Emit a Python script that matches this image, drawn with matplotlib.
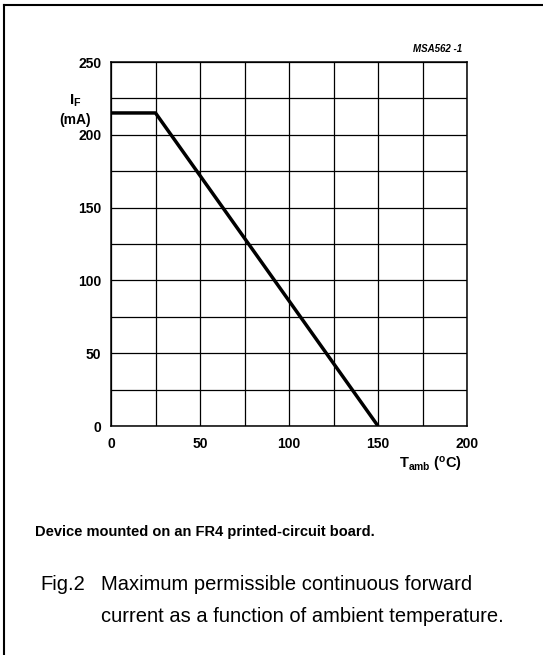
"""Fig.2 - max permissible continuous forward current vs ambient temperature."""
import matplotlib
matplotlib.use('Agg')
import matplotlib.pyplot as plt
from matplotlib.lines import Line2D
import numpy as np

plt.rcParams['font.family'] = ['Liberation Sans', 'DejaVu Sans']
plt.rcParams['mathtext.fontset'] = 'custom'
plt.rcParams['mathtext.rm'] = 'Liberation Sans'
plt.rcParams['mathtext.bf'] = 'Liberation Sans:bold'

# derating curve
t_amb = [0, 25, 150]
i_f = [215, 215, 0]

x_ticks = [0, 50, 100, 150, 200]
y_ticks = [0, 50, 100, 150, 200, 250]

W, H = 543, 655
fig = plt.figure(figsize=(W / 100, H / 100), dpi=100)
ax = fig.add_axes([111 / W, 1 - 426 / H, 356 / W, 364 / H])

ax.set_xlim(0, 200)
ax.set_ylim(0, 250)
ax.set_xticks(np.arange(0, 201, 25))
ax.set_yticks(np.arange(0, 251, 25))
ax.set_xticklabels([str(v) if v in x_ticks else '' for v in np.arange(0, 201, 25)])
ax.set_yticklabels([str(v) if v in y_ticks else '' for v in np.arange(0, 251, 25)])
ax.tick_params(length=0, labelsize=10)
ax.tick_params(axis='x', pad=8)
ax.tick_params(axis='y', pad=7)
for lb in ax.get_xticklabels() + ax.get_yticklabels():
    lb.set_fontweight('bold')
ax.grid(True, color='black', linewidth=0.9)
for s in ax.spines.values():
    s.set_linewidth(1.1)

ax.plot(t_amb, i_f, color='black', linewidth=2.5, solid_capstyle='butt', zorder=5)

# axis labels
ax.text(-0.10, 0.895, r'$\mathbf{I}_{\mathbf{F}}$', transform=ax.transAxes,
        fontsize=11, ha='center', va='center')
ax.text(-0.10, 0.84, '(mA)', transform=ax.transAxes, fontsize=10,
        ha='center', va='center', fontweight='bold')
ax.text(0.985, -0.105, r'$\mathbf{T}_{\mathbf{amb}}$ $\mathbf{(^{o}C)}$',
        transform=ax.transAxes, fontsize=10.5, ha='right', va='center')
ax.text(0.985, 1.035, 'MSA562 -1', transform=ax.transAxes, fontsize=7,
        ha='right', va='center', fontweight='bold', style='italic')

# captions
fig.text(35 / W, 1 - 532 / H, 'Device mounted on an FR4 printed-circuit board.',
         fontsize=10.5, ha='left', va='center', fontweight='bold')
fig.text(40 / W, 1 - 584 / H, 'Fig.2', fontsize=14.5, ha='left', va='center')
fig.text(101 / W, 1 - 584 / H, 'Maximum permissible continuous forward',
         fontsize=14.5, ha='left', va='center')
fig.text(101 / W, 1 - 616 / H, 'current as a function of ambient temperature.',
         fontsize=14.5, ha='left', va='center')

# page frame (left and top edges)
fig.add_artist(Line2D([4 / W, 4 / W], [0, 1 - 5 / H], color='black', linewidth=1.5))
fig.add_artist(Line2D([4 / W, 1], [1 - 5 / H, 1 - 5 / H], color='black', linewidth=1.5))

fig.savefig('out.png', dpi=100)
